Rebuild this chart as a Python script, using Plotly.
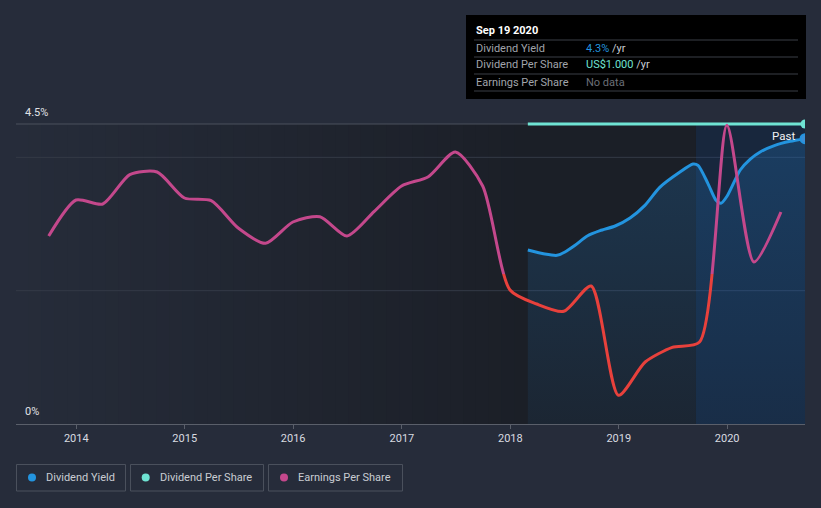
import plotly.graph_objects as go

# ---------------- data ----------------
dy_dates = ["2018-03-01", "2018-04-27", "2018-06-07", "2018-07-04", "2018-08-07",
            "2018-09-17", "2018-10-30", "2018-12-20", "2019-02-08", "2019-03-30",
            "2019-05-19", "2019-07-26", "2019-09-08", "2019-09-25", "2019-10-28",
            "2019-11-24", "2019-12-11", "2020-01-01", "2020-02-14", "2020-03-18",
            "2020-04-21", "2020-06-10", "2020-07-31", "2020-09-19"]
dy_vals = [2.61, 2.55, 2.53, 2.58, 2.68, 2.82, 2.90, 2.97, 3.09, 3.28, 3.55, 3.78,
           3.90, 3.88, 3.61, 3.36, 3.31, 3.42, 3.81, 3.97, 4.08, 4.18, 4.24, 4.28]

dps_dates = ["2018-03-01", "2018-09-01", "2019-03-01", "2019-09-01", "2020-03-01", "2020-09-19"]
dps_vals = [1.0, 1.0, 1.0, 1.0, 1.0, 1.0]

eps_dates = ["2013-09-30", "2013-12-31", "2014-03-31", "2014-06-30", "2014-09-30",
             "2014-12-31", "2015-03-31", "2015-06-30", "2015-09-30", "2015-12-31",
             "2016-03-31", "2016-06-30", "2016-09-30", "2016-12-31", "2017-03-31",
             "2017-06-30", "2017-09-30", "2017-12-31", "2018-03-31", "2018-06-30",
             "2018-09-30", "2018-12-31", "2019-03-31", "2019-06-30", "2019-09-30",
             "2019-12-31", "2020-03-31", "2020-06-30"]
eps_vals = [2.82, 3.36, 3.30, 3.74, 3.78, 3.39, 3.35, 2.94, 2.71, 3.03, 3.11, 2.82,
            3.19, 3.57, 3.71, 4.08, 3.57, 2.01, 1.80, 1.69, 2.07, 0.43, 0.93, 1.15,
            1.23, 4.48, 2.43, 3.18]

year_ticks = ["2014-01-01", "2015-01-01", "2016-01-01", "2017-01-01",
              "2018-01-01", "2019-01-01", "2020-01-01"]
year_labels = ["2014", "2015", "2016", "2017", "2018", "2019", "2020"]

legend_names = ["Dividend Yield", "Dividend Per Share", "Earnings Per Share"]

# ---------------- styling ----------------
W, H = 821, 508
L, R, T, B = 16, 805, 110, 424
YMAX = 4.71
TOPLINE = 4.5
EPS_SPLIT = 2.25
BLUE = "#2394df"
TEAL = "#6fe3d3"
MAGENTA = "#c4488c"
RED = "#e8413c"
PAGE = "#262c3a"
FONT = "Roboto"


def px(x):
    return (x - L) / (R - L)


def py(y):
    return (B - y) / (B - T)


fig = go.Figure()

# dividend yield with fill
fig.add_trace(go.Scatter(
    x=dy_dates, y=dy_vals, mode="lines", fill="tozeroy",
    fillgradient=dict(type="vertical",
                      colorscale=[[0, "rgba(33,130,210,0.07)"], [1, "rgba(33,130,210,0.24)"]]),
    line=dict(color=BLUE, width=3, shape="spline", smoothing=0.7),
    hoverinfo="skip", showlegend=False))
fig.add_trace(go.Scatter(
    x=[dy_dates[-1]], y=[dy_vals[-1]], mode="markers",
    marker=dict(size=9, color="#3a8fd6", line=dict(color=BLUE, width=2)),
    hoverinfo="skip", showlegend=False))

# dividend per share
fig.add_trace(go.Scatter(
    x=dps_dates, y=dps_vals, mode="lines", yaxis="y2",
    line=dict(color=TEAL, width=3), hoverinfo="skip", showlegend=False))
fig.add_trace(go.Scatter(
    x=[dps_dates[-1]], y=[dps_vals[-1]], mode="markers", yaxis="y2",
    marker=dict(size=9, color=TEAL), hoverinfo="skip", showlegend=False))

# earnings per share: lower part red, upper part magenta
fig.add_trace(go.Scatter(
    x=eps_dates, y=eps_vals, mode="lines", yaxis="y3",
    line=dict(color=RED, width=3, shape="spline", smoothing=0.7),
    hoverinfo="skip", showlegend=False))
fig.add_trace(go.Scatter(
    x=eps_dates, y=eps_vals, mode="lines", yaxis="y4",
    line=dict(color=MAGENTA, width=3, shape="spline", smoothing=0.7),
    hoverinfo="skip", showlegend=False))

shapes = []
# background gradient strips
n = 40
xg_end = px(527)
c0 = (38, 44, 58)
c1 = (27, 31, 39)
for i in range(n):
    f = (i + 0.5) / n
    col = tuple(round(c0[k] + (c1[k] - c0[k]) * f) for k in range(3))
    shapes.append(dict(type="rect", xref="paper", yref="y",
                       x0=xg_end * i / n, x1=xg_end * (i + 1) / n + 0.001,
                       y0=0, y1=TOPLINE, fillcolor="rgb(%d,%d,%d)" % col,
                       line=dict(width=0), layer="below"))
shapes.append(dict(type="rect", xref="paper", yref="y", x0=xg_end, x1=1,
                   y0=0, y1=TOPLINE, fillcolor="rgb(%d,%d,%d)" % c1,
                   line=dict(width=0), layer="below"))
# past region
shapes.append(dict(type="rect", xref="x", yref="y", x0="2019-09-18", x1=dy_dates[-1],
                   y0=0, y1=TOPLINE, fillcolor="rgba(15,80,180,0.16)",
                   line=dict(width=0), layer="below"))
# gridlines
for gv, gc in [(4.0, "#343a46"), (2.0, "#343a46"), (TOPLINE, "#4b505c")]:
    shapes.append(dict(type="line", xref="paper", yref="y", x0=0, x1=1, y0=gv, y1=gv,
                       line=dict(color=gc, width=1), layer="below"))

# tooltip box
shapes.append(dict(type="rect", xref="paper", yref="paper", x0=px(466), x1=px(806),
                   y0=py(99), y1=py(15), fillcolor="#000000", line=dict(width=0)))
for ly in [40, 57, 74, 91]:
    shapes.append(dict(type="line", xref="paper", yref="paper", x0=px(474), x1=px(798),
                       y0=py(ly), y1=py(ly), line=dict(color="#3a3e46", width=1)))

# legend boxes
leg_boxes = [(16.5, 125.5), (130.5, 263.5), (268.5, 402.5)]
leg_dots = [32, 145.7, 284]
leg_text_x = [44, 158, 296]
leg_colors = [BLUE, TEAL, MAGENTA]
for (bx0, bx1), dx, col in zip(leg_boxes, leg_dots, leg_colors):
    shapes.append(dict(type="rect", xref="paper", yref="paper", x0=px(bx0), x1=px(bx1),
                       y0=py(491), y1=py(464.5), line=dict(color="#4a505c", width=1),
                       fillcolor="rgba(0,0,0,0)"))
    shapes.append(dict(type="circle", xref="paper", yref="paper", x0=px(dx - 4), x1=px(dx + 4),
                       y0=py(481.5), y1=py(473.5), fillcolor=col, line=dict(width=0)))

annotations = []
for name, tx in zip(legend_names, leg_text_x):
    annotations.append(dict(xref="paper", yref="paper", x=px(tx), y=py(477.5), text=name,
                            showarrow=False, xanchor="left", yanchor="middle",
                            font=dict(family=FONT, size=11, color="#c9ccd2")))

# y labels
annotations.append(dict(xref="paper", yref="paper", x=px(23), y=py(112), text="4.5%",
                        showarrow=False, xanchor="left", yanchor="middle",
                        font=dict(family=FONT, size=11, color="#e0e2e6")))
annotations.append(dict(xref="paper", yref="paper", x=px(23), y=py(411), text="0%",
                        showarrow=False, xanchor="left", yanchor="middle",
                        font=dict(family=FONT, size=11, color="#e0e2e6")))
# Past label
annotations.append(dict(xref="paper", yref="paper", x=px(797), y=py(136), text="Past",
                        showarrow=False, xanchor="right", yanchor="middle",
                        font=dict(family=FONT, size=11.5, color="#f0f2f5")))

# tooltip text
annotations.append(dict(xref="paper", yref="paper", x=px(474), y=py(31), text="<b>Sep 19 2020</b>",
                        showarrow=False, xanchor="left", yanchor="middle",
                        font=dict(family=FONT, size=11, color="#ffffff")))
rows = [("Dividend Yield", '<span style="color:%s">4.3%%</span> /yr' % BLUE, 48.5),
        ("Dividend Per Share", '<span style="color:%s">US$1.000</span> /yr' % TEAL, 65),
        ("Earnings Per Share", '<span style="color:#6b6f77">No data</span>', 82)]
for lab, val, ry in rows:
    annotations.append(dict(xref="paper", yref="paper", x=px(474), y=py(ry), text=lab,
                            showarrow=False, xanchor="left", yanchor="middle",
                            font=dict(family=FONT, size=11, color="#a0a4ab")))
    annotations.append(dict(xref="paper", yref="paper", x=px(584), y=py(ry), text=val,
                            showarrow=False, xanchor="left", yanchor="middle",
                            font=dict(family=FONT, size=11, color="#c9ccd2")))

f_split = EPS_SPLIT / YMAX

fig.update_layout(
    width=W, height=H,
    margin=dict(l=L, r=W - R, t=T, b=H - B),
    paper_bgcolor=PAGE, plot_bgcolor="rgba(0,0,0,0)",
    showlegend=False,
    xaxis=dict(type="date", range=["2013-06-12", dy_dates[-1]], tickvals=year_ticks,
               ticktext=year_labels, ticks="outside", ticklen=4, tickcolor="#5a5f6a",
               showline=True, linecolor="#5a5f6a", linewidth=1, showgrid=False,
               zeroline=False, tickfont=dict(family=FONT, size=11, color="#d8dbe0"),
               anchor="y"),
    yaxis=dict(range=[0, YMAX], visible=False, showgrid=False, zeroline=False),
    yaxis2=dict(range=[0, 1.0 * YMAX / TOPLINE], overlaying="y", visible=False,
                showgrid=False, zeroline=False),
    yaxis3=dict(domain=[0, f_split], range=[0, EPS_SPLIT], anchor="x", visible=False,
                showgrid=False, zeroline=False),
    yaxis4=dict(domain=[f_split, 1], range=[EPS_SPLIT, YMAX], anchor="x", visible=False,
                showgrid=False, zeroline=False),
    shapes=shapes, annotations=annotations,
    font=dict(family=FONT),
)

fig.write_html("out.html", config={"displayModeBar": False},
               post_script="document.body.style.margin='0';document.body.style.background='%s';" % PAGE)
